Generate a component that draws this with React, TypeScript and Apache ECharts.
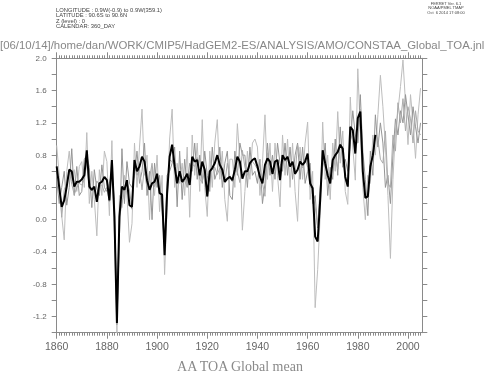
import React, { useEffect, useRef } from "react";
import * as echarts from "echarts";

const START_YEAR = 1860;
const X_MAX = 2005.7;
const majorYears = [1860, 1880, 1900, 1920, 1940, 1960, 1980, 2000];

// ensemble mean (black), 1860-1987
const meanTOA = [
  0.66, 0.40, 0.16, 0.24, 0.41, 0.62, 0.60, 0.41, 0.47, 0.47,
  0.50, 0.55, 0.86, 0.41, 0.37, 0.41, 0.22, 0.45, 0.47, 0.53,
  0.49, 0.24, 0.74, 0.04, -1.28, 0.04, 0.41, 0.37, 0.49, 0.18,
  0.16, 0.74, 0.60, 0.66, 0.78, 0.72, 0.49, 0.37, 0.45, 0.47,
  0.57, 0.33, 0.31, -0.44, 0.33, 0.78, 0.93, 0.66, 0.45, 0.60,
  0.47, 0.51, 0.57, 0.43, 0.78, 0.72, 0.74, 0.55, 0.72, 0.62,
  0.29, 0.60, 0.64, 0.70, 0.80, 0.68, 0.62, 0.47, 0.51, 0.53,
  0.49, 0.62, 0.78, 0.72, 0.51, 0.60, 0.60, 0.70, 0.74, 0.76,
  0.66, 0.53, 0.45, 0.68, 0.76, 0.72, 0.57, 0.72, 0.74, 0.49,
  0.80, 0.74, 0.78, 0.66, 0.72, 0.57, 0.62, 0.72, 0.68, 0.72,
  0.82, 0.45, 0.39, -0.21, -0.27, 0.24, 0.86, 0.70, 0.55, 0.45,
  0.74, 0.80, 0.84, 0.93, 0.88, 0.53, 0.41, 1.15, 1.11, 0.82,
  1.26, 1.34, 0.60, 0.27, 0.29, 0.66, 0.80, 1.05,
];

// ensemble members (grey), 1860-2005
const member1 = [
  0.92, 0.55, 0.05, -0.25, 0.60, 0.85, 0.48, 0.62, 0.35, 0.66,
  0.72, 0.40, 1.08, 0.20, 0.60, 0.25, -0.20, 0.62, 0.30, 0.85,
  0.72, 0.05, 0.98, -0.15, -1.40, 0.30, 0.15, 0.55, 0.30, -0.28,
  -0.05, 0.95, 0.40, 0.90, 1.37, 0.55, 0.80, 0.00, 0.65, 0.30,
  0.80, 0.10, 0.55, -0.68, 0.15, 1.00, 1.37, 0.40, 0.70, 0.45,
  0.70, 0.30, 0.90, 0.03, 1.05, 0.55, 0.95, 0.35, 1.24, 0.40,
  0.04, 0.85, 0.40, 0.95, 1.24, 0.50, 0.85, 0.25, -0.02, 0.75,
  0.75, 0.40, 1.19, 0.75, -0.13, 0.35, 0.85, 0.50, 0.95, 1.00,
  0.90, 0.30, 0.70, 1.30, 0.50, 0.95, 0.35, 0.95, 0.55, 0.16,
  1.05, 0.55, 1.00, 0.40, 0.95, 0.35, -0.02, 0.90, 0.50, 0.95,
  1.21, 0.25, 0.60, -1.09, -0.62, 0.05, 1.21, 0.50, 0.80, 0.25,
  0.95, 0.60, 1.34, 0.70, 1.10, 0.35, 0.19, 1.52, 0.90, 0.49,
  1.87, 1.10, 0.40, 0.00, 0.55, 0.45, 1.05, 0.80, 1.30, 1.79,
  1.40, 0.90, 0.30, -0.48, 0.50, 1.10, 1.35, 1.65, 1.98, 1.45,
  0.93, 1.55, 1.20, 0.76, 1.30, 1.63,
];
const member2 = [
  0.50, 0.20, 0.40, 0.60, 0.18, 0.40, 0.88, 0.30, 0.66, 0.30,
  0.35, 0.75, 0.80, 0.65, 0.15, 0.62, 0.38, 0.30, 0.68, 0.40,
  0.35, 0.45, 0.60, 0.25, -1.30, -0.20, 0.88, 0.20, 0.72, 0.45,
  0.40, 0.55, 0.85, 0.45, 0.60, 0.95, 0.30, 0.60, 0.00, 0.70,
  0.40, 0.55, 0.10, -0.35, 0.55, 0.60, 0.70, 0.90, 0.16, 0.85,
  0.25, 0.75, 0.40, 0.70, 0.60, 0.95, 0.50, 0.80, 0.45, 0.85,
  0.55, 0.35, 0.90, 0.50, 0.60, 0.90, 0.40, 0.70, 0.85, 0.30,
  0.25, 0.85, 0.55, 0.95, 0.80, 0.80, 0.40, 0.90, 0.55, 0.60,
  0.45, 0.75, 0.20, 0.45, 0.95, 0.55, 0.80, 0.50, 0.95, 0.70,
  0.60, 0.95, 0.55, 0.90, 0.50, 0.80, 0.95, 0.50, 0.90, 0.45,
  0.60, 0.70, 0.20, 0.30, -0.10, 0.40, 0.65, 0.95, 0.30, 0.65,
  0.50, 1.00, 0.55, 1.15, 0.65, 0.75, 0.60, 0.95, 1.35, 1.05,
  0.95, 1.55, 0.85, 0.50, 0.05, 0.85, 0.55, 1.30, 0.90, 1.20,
  0.95, 0.40, 0.55, 0.20, 0.80, 1.25, 1.05, 1.35, 1.20, 1.55,
  1.30, 1.05, 1.40, 1.15, 0.95, 1.20,
];
const member3 = [
  0.56, 0.45, 0.03, 0.37, 0.45, 0.61, 0.44, 0.31, 0.40, 0.45,
  0.43, 0.50, 0.70, 0.38, 0.36, 0.36, 0.48, 0.43, 0.43, 0.34,
  0.40, 0.22, 0.64, 0.02, -1.14, 0.02, 0.20, 0.36, 0.45, 0.37,
  0.13, 0.72, 0.55, 0.63, 0.37, 0.66, 0.37, 0.51, 0.70, 0.41,
  0.51, 0.34, 0.28, -0.29, 0.29, 0.74, 0.72, 0.68, 0.49, 0.50,
  0.46, 0.48, 0.41, 0.56, 0.69, 0.66, 0.77, 0.50, 0.47, 0.61,
  0.28, 0.60, 0.62, 0.65, 0.56, 0.64, 0.61, 0.46, 0.70, 0.54,
  0.47, 0.61, 0.60, 0.46, 0.86, 0.65, 0.55, 0.70, 0.72, 0.68,
  0.63, 0.54, 0.45, 0.29, 0.83, 0.66, 0.56, 0.71, 0.72, 0.61,
  0.75, 0.72, 0.79, 0.68, 0.71, 0.56, 0.93, 0.76, 0.64, 0.76,
  0.65, 0.40, 0.37, 0.16, -0.09, 0.27, 0.72, 0.65, 0.55, 0.45,
  0.77, 0.80, 0.63, 0.94, 0.89, 0.49, 0.44, 0.98, 1.08, 0.92,
  0.96, 1.37, 0.55, 0.31, 0.27, 0.68, 0.80, 1.05, 1.00, 0.75,
  0.70, 1.10, 0.45, 0.40, 1.05, 0.85, 1.45, 1.20, 1.50, 1.10,
  1.40, 1.25, 0.95, 1.35, 1.10, 1.05,
];

const headerLeft = [
  "LONGITUDE : 0.9W(-0.9) to 0.9W(359.1)",
  "LATITUDE : 90.6S to 90.6N",
  "Z (level) : 0",
  "CALENDAR: 360_DAY",
];
const headerRight = ["FERRET Ver. 6.1", "NOAA/PMEL TMAP", "Oct  6 2014 17:08:00"];
const titleLine = "[06/10/14]/home/dan/WORK/CMIP5/HadGEM2-ES/ANALYSIS/AMO/CONSTAA_Global_TOA.jnl";
const bottomTitle = "AA TOA Global mean";

const toPairs = (arr: number[]) => arr.map((v, i) => [START_YEAR + i, v]);
const allYears = member1.map((_, i) => START_YEAR + i);

export default function App() {
  const ref = useRef<HTMLDivElement>(null);
  useEffect(() => {
    if (!ref.current) return;
    const chart = echarts.init(ref.current, null, { renderer: "svg" });
    const axisColor = "#8a8a8a";
    const sans = "'Liberation Sans', Arial, sans-serif";
    const xBase = (position: string, custom: number[], len: number, labels: boolean, line: boolean) => ({
      type: "value",
      min: START_YEAR,
      max: X_MAX,
      position,
      axisLine: { show: line, onZero: false, lineStyle: { color: axisColor, width: 1 } },
      axisTick: { show: true, customValues: custom, length: len, inside: false, lineStyle: { color: axisColor, width: 1 } },
      axisLabel: labels
        ? {
            show: true,
            customValues: majorYears,
            fontSize: 10.5,
            color: "#666",
            fontFamily: sans,
            margin: 8,
            formatter: (v: number) => String(Math.round(v)),
          }
        : { show: false },
      splitLine: { show: false },
      minorTick: { show: false },
    });
    const yBase = (position: string, labels: boolean) => ({
      type: "value",
      min: -1.4,
      max: 2.0,
      interval: 0.2,
      position,
      axisLine: { show: true, onZero: false, lineStyle: { color: axisColor, width: 1 } },
      axisTick: { show: true, length: 5, inside: false, lineStyle: { color: axisColor, width: 1 } },
      axisLabel: labels
        ? {
            show: true,
            fontSize: 8,
            color: "#666",
            fontFamily: sans,
            margin: 10,
            formatter: (v: number) => {
              const k = Math.round(v / 0.4);
              return Math.abs(k * 0.4 - v) < 1e-6 ? (k * 0.4).toFixed(1) : "";
            },
          }
        : { show: false },
      splitLine: { show: false },
    });
    const greyLine = (data: number[], color: string) => ({
      type: "line",
      data: toPairs(data),
      symbol: "none",
      lineStyle: { color, width: 1 },
      xAxisIndex: 0,
      yAxisIndex: 0,
      z: 2,
    });
    chart.setOption({
      animation: false,
      grid: { left: 56.7, right: 61.7, top: 58.3, bottom: 41.3, containLabel: false },
      xAxis: [
        xBase("bottom", majorYears, 6, true, true),
        xBase("bottom", allYears, 3, false, false),
        xBase("top", majorYears, 6, false, true),
        xBase("top", allYears, 3, false, false),
      ],
      yAxis: [yBase("left", true), yBase("right", false)],
      series: [
        greyLine(member1, "#bdbdbd"),
        greyLine(member2, "#959595"),
        greyLine(member3, "#aaaaaa"),
        {
          type: "line",
          data: toPairs(meanTOA),
          symbol: "none",
          lineStyle: { color: "#000", width: 2 },
          z: 3,
        },
      ],
      graphic: [
        ...headerLeft.map((t, i) => ({
          type: "text",
          x: 56,
          y: 10.3 + i * 5.1,
          style: { text: t, font: `5.8px ${sans}`, fill: "#444", textVerticalAlign: "middle" },
        })),
        ...headerRight.map((t, i) => ({
          type: "text",
          x: 446,
          y: 3 + i * 4.5,
          style: { text: t, font: `4px ${sans}`, fill: "#444", textAlign: "center", textVerticalAlign: "middle" },
        })),
        {
          type: "text",
          x: 0,
          y: 44.5,
          style: { text: titleLine, font: `11.4px ${sans}`, fill: "#888", textVerticalAlign: "middle" },
        },
        {
          type: "text",
          x: 240,
          y: 366,
          style: {
            text: bottomTitle,
            font: `14px 'Liberation Serif', 'DejaVu Serif', serif`,
            fill: "#8a8a8a",
            textAlign: "center",
            textVerticalAlign: "middle",
          },
        },
      ],
    });
    return () => chart.dispose();
  }, []);
  return <div ref={ref} style={{ position: "fixed", left: 0, top: 0, width: 484, height: 374 }} />;
}
